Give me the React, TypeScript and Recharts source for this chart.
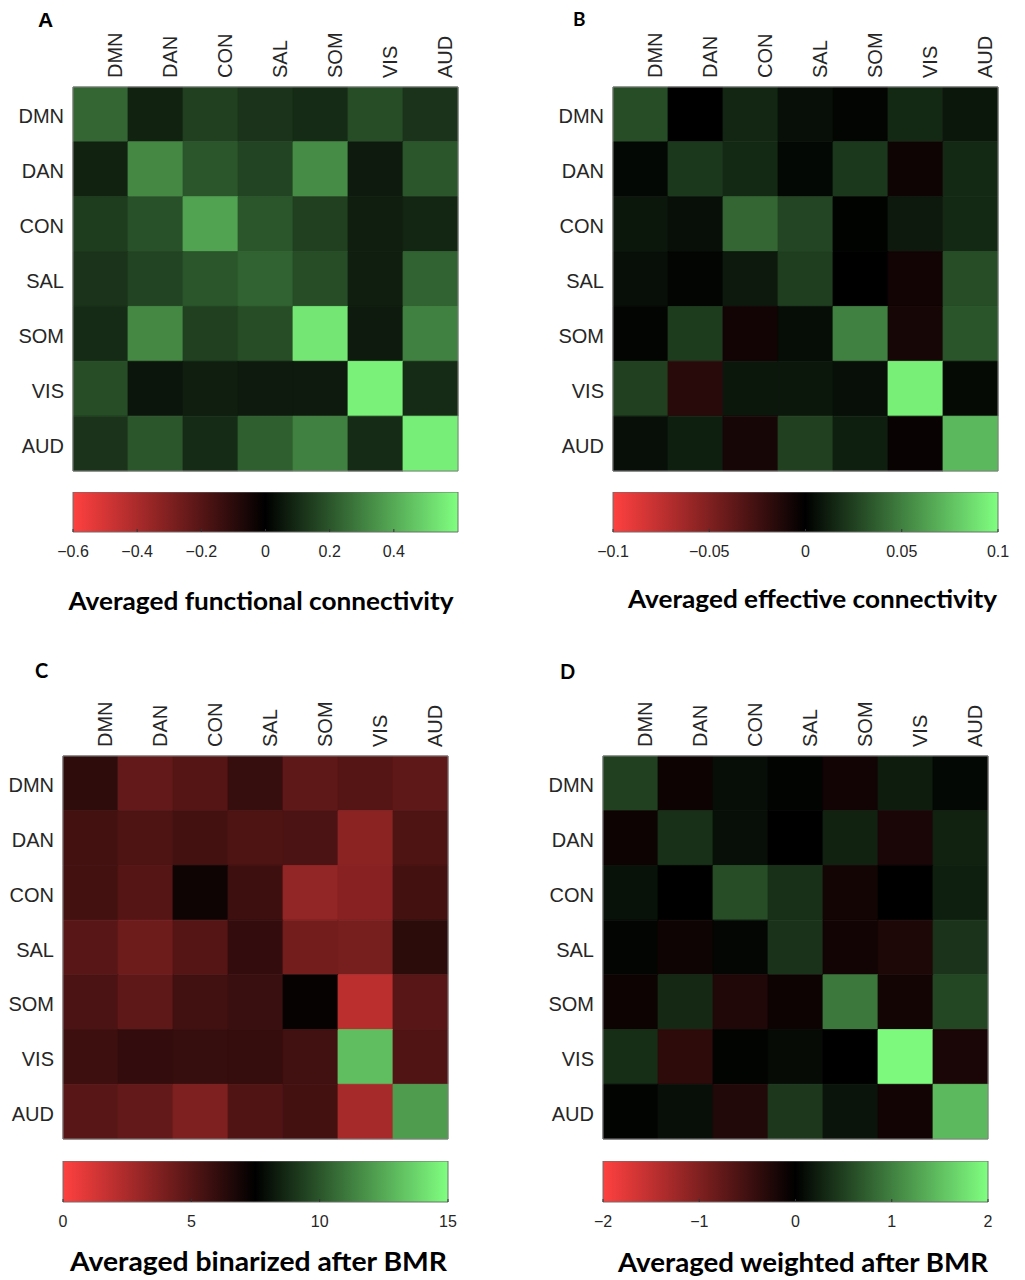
import React from 'react';
import { ScatterChart, Scatter, XAxis, YAxis, ReferenceArea } from 'recharts';

const networks = ['DMN', 'DAN', 'CON', 'SAL', 'SOM', 'VIS', 'AUD'];

// Panel A: averaged functional connectivity (rows x columns)
const functionalConnectivity = [
  [0.24, 0.08, 0.15, 0.12, 0.1, 0.18, 0.12],
  [0.08, 0.32, 0.2, 0.16, 0.33, 0.06, 0.2],
  [0.14, 0.19, 0.38, 0.2, 0.15, 0.07, 0.09],
  [0.12, 0.16, 0.2, 0.23, 0.18, 0.07, 0.23],
  [0.1, 0.32, 0.15, 0.18, 0.54, 0.06, 0.3],
  [0.18, 0.05, 0.07, 0.06, 0.06, 0.57, 0.1],
  [0.12, 0.2, 0.1, 0.22, 0.3, 0.1, 0.56],
];

// Panel B: averaged effective connectivity
const effectiveConnectivity = [
  [0.03, 0.0, 0.015, 0.006, 0.002, 0.016, 0.009],
  [0.003, 0.022, 0.016, 0.003, 0.022, -0.006, 0.016],
  [0.009, 0.006, 0.04, 0.027, 0.001, 0.01, 0.016],
  [0.006, 0.002, 0.01, 0.024, 0.0, -0.007, 0.03],
  [0.002, 0.023, -0.007, 0.005, 0.05, -0.009, 0.033],
  [0.025, -0.016, 0.009, 0.009, 0.006, 0.094, 0.004],
  [0.006, 0.012, -0.009, 0.025, 0.012, -0.003, 0.072],
];

// Panel C: averaged binarized after BMR
const binarizedBMR = [
  [6.15, 4.6, 5.0, 5.9, 4.7, 5.0, 4.7],
  [5.5, 5.2, 5.5, 5.2, 5.3, 3.4, 5.2],
  [5.5, 5.0, 7.05, 5.7, 3.2, 3.5, 5.5],
  [4.9, 4.3, 5.0, 6.0, 4.1, 4.0, 6.2],
  [5.3, 4.7, 5.6, 5.8, 7.3, 2.0, 4.9],
  [5.7, 6.0, 5.9, 5.95, 5.6, 13.1, 5.15],
  [4.9, 4.6, 3.8, 5.15, 5.5, 2.6, 12.1],
];

// Panel D: averaged weighted after BMR
const weightedBMR = [
  [0.5, -0.1, 0.11, 0.03, -0.14, 0.22, 0.06],
  [-0.1, 0.38, 0.12, 0.0, 0.27, -0.2, 0.27],
  [0.14, 0.0, 0.6, 0.38, -0.16, 0.0, 0.24],
  [0.04, -0.12, 0.05, 0.39, -0.14, -0.23, 0.4],
  [-0.1, 0.31, -0.25, -0.1, 0.94, -0.16, 0.55],
  [0.35, -0.35, 0.03, 0.09, 0.0, 1.96, -0.2],
  [0.03, 0.12, -0.27, 0.43, 0.16, -0.14, 1.45],
];

const ticksA = [-0.6, -0.4, -0.2, 0, 0.2, 0.4];
const ticksB = [-0.1, -0.05, 0, 0.05, 0.1];
const ticksC = [0, 5, 10, 15];
const ticksD = [-2, -1, 0, 1, 2];

const titles = [
  'Averaged functional connectivity',
  'Averaged effective connectivity',
  'Averaged binarized after BMR',
  'Averaged weighted after BMR',
];
const letters = ['A', 'B', 'C', 'D'];

const RED = [255, 64, 64];
const GREEN = [128, 255, 128];
const TXT = '#262626';
const SANS = '"Liberation Sans", Arial, sans-serif';
const TITLE_FONT = 'Lato, "Open Sans", sans-serif';
const centers = networks.map((_, i) => i + 0.5);

function colorFor(v: number, min: number, max: number) {
  const mid = (min + max) / 2;
  const half = (max - min) / 2;
  let t = (v - mid) / half;
  if (t > 1) t = 1;
  if (t < -1) t = -1;
  const c = t >= 0 ? GREEN : RED;
  const a = Math.abs(t);
  return `rgb(${Math.round(c[0] * a)},${Math.round(c[1] * a)},${Math.round(c[2] * a)})`;
}

function fmt(v: number) {
  return v < 0 ? '\u2212' + String(-v) : String(v);
}

const TopTick = (props: any) => {
  const { x, y, payload } = props;
  const label = networks[Math.floor(payload.value)];
  return (
    <text
      transform={`translate(${x + 21.5},${y - 9}) rotate(-90)`}
      textAnchor="start"
      fontFamily={SANS}
      fontSize={20}
      fill={TXT}
    >
      {label}
    </text>
  );
};

const LeftTick = (props: any) => {
  const { x, y, payload } = props;
  const label = networks[Math.floor(payload.value)];
  return (
    <text x={x - 9} y={y + 9} textAnchor="end" fontFamily={SANS} fontSize={20} fill={TXT}>
      {label}
    </text>
  );
};

const CbTick = (props: any) => {
  const { x, y, payload } = props;
  return (
    <g>
      <line x1={x} x2={x} y1={y} y2={y - 3} stroke="#333" strokeWidth={1} />
      <text x={x} y={y + 25} textAnchor="middle" fontFamily={SANS} fontSize={16} fill={TXT}>
        {fmt(payload.value)}
      </text>
    </g>
  );
};

const NoShape = () => <g />;

type PanelCfg = {
  matrix: number[][];
  min: number;
  max: number;
  ticks: number[];
  hx: number;
  hy: number;
  hw: number;
  hh: number;
  cbY: number;
  cbH: number;
  gid: string;
};

function Heatmap({ cfg }: { cfg: PanelCfg }) {
  const YW = 73;
  const XH = 87;
  const R = 12;
  const B = 12;
  const W = YW + cfg.hw + R;
  const H = XH + cfg.hh + B;
  const cellData = cfg.matrix.flatMap((row, i) => row.map((v, j) => ({ x: j + 0.5, y: i + 0.5, v })));
  return (
    <div style={{ position: 'absolute', left: cfg.hx - YW, top: cfg.hy - XH }}>
      <ScatterChart width={W} height={H} margin={{ top: 0, left: 0, right: R, bottom: B }}>
        <XAxis
          xAxisId="top"
          dataKey="x"
          type="number"
          orientation="top"
          domain={[0, 7]}
          ticks={centers}
          height={XH}
          tickSize={0}
          tickMargin={0}
          axisLine={false}
          tickLine={false}
          interval={0}
          tick={TopTick}
          allowDataOverflow
        />
        <YAxis
          yAxisId="left"
          dataKey="y"
          type="number"
          domain={[0, 7]}
          reversed
          ticks={centers}
          width={YW}
          tickSize={0}
          tickMargin={0}
          axisLine={false}
          tickLine={false}
          interval={0}
          tick={LeftTick}
          allowDataOverflow
        />
        <Scatter
          data={cellData}
          xAxisId="top"
          yAxisId="left"
          shape={NoShape}
          isAnimationActive={false}
        />
        {cfg.matrix.flatMap((row, i) =>
          row.map((v, j) => {
            const col = colorFor(v, cfg.min, cfg.max);
            return (
              <ReferenceArea
                key={`c${i}-${j}`}
                xAxisId="top"
                yAxisId="left"
                x1={j}
                x2={j + 1}
                y1={i}
                y2={i + 1}
                fill={col}
                fillOpacity={1}
                stroke={col}
                strokeWidth={0.8}
                ifOverflow="visible"
              />
            );
          })
        )}
        <ReferenceArea
          xAxisId="top"
          yAxisId="left"
          x1={0}
          x2={7}
          y1={0}
          y2={7}
          fill="none"
          fillOpacity={0}
          stroke="#808080"
          strokeWidth={1}
          ifOverflow="visible"
        />
      </ScatterChart>
    </div>
  );
}

function Colorbar({ cfg }: { cfg: PanelCfg }) {
  const L = 25;
  const R = 25;
  const XH = 40;
  const W = L + cfg.hw + R;
  const H = cfg.cbH + XH;
  const ends = [
    { x: cfg.min, y: 0 },
    { x: cfg.max, y: 1 },
  ];
  return (
    <div style={{ position: 'absolute', left: cfg.hx - L, top: cfg.cbY }}>
      <ScatterChart width={W} height={H} margin={{ top: 0, left: L, right: R, bottom: 0 }}>
        <defs>
          <linearGradient id={cfg.gid} x1="0" y1="0" x2="1" y2="0">
            <stop offset="0" stopColor={`rgb(${RED.join(',')})`} />
            <stop offset="0.5" stopColor="#000" />
            <stop offset="1" stopColor={`rgb(${GREEN.join(',')})`} />
          </linearGradient>
        </defs>
        <XAxis
          dataKey="x"
          type="number"
          domain={[cfg.min, cfg.max]}
          ticks={cfg.ticks}
          height={XH}
          tickSize={0}
          tickMargin={0}
          axisLine={false}
          tickLine={false}
          interval={0}
          tick={CbTick}
          allowDataOverflow
        />
        <YAxis dataKey="y" type="number" domain={[0, 1]} hide />
        <Scatter data={ends} shape={NoShape} isAnimationActive={false} />
        <ReferenceArea
          x1={cfg.min}
          x2={cfg.max}
          y1={0}
          y2={1}
          fill={`url(#${cfg.gid})`}
          fillOpacity={1}
          stroke="#6e6e6e"
          strokeWidth={1}
          ifOverflow="visible"
        />
      </ScatterChart>
    </div>
  );
}

const panels: PanelCfg[] = [
  { matrix: functionalConnectivity, min: -0.6, max: 0.6, ticks: ticksA, hx: 73, hy: 87, hw: 385, hh: 384, cbY: 492, cbH: 40, gid: 'gA' },
  { matrix: effectiveConnectivity, min: -0.1, max: 0.1, ticks: ticksB, hx: 613, hy: 87, hw: 385, hh: 384, cbY: 492, cbH: 40, gid: 'gB' },
  { matrix: binarizedBMR, min: 0, max: 15, ticks: ticksC, hx: 63, hy: 756, hw: 385, hh: 383, cbY: 1161, cbH: 41, gid: 'gC' },
  { matrix: weightedBMR, min: -2, max: 2, ticks: ticksD, hx: 603, hy: 756, hw: 385, hh: 383, cbY: 1161, cbH: 41, gid: 'gD' },
];

const titlePos = [
  { x: 261, y: 610, w: 385, fs: 25 },
  { x: 812.5, y: 608, w: 369, fs: 25 },
  { x: 258.5, y: 1271, w: 377, fs: 27 },
  { x: 803, y: 1272, w: 370, fs: 27 },
];
const letterPos = [
  { x: 38, y: 27, fs: 21, font: SANS },
  { x: 573, y: 26, fs: 19, font: TITLE_FONT },
  { x: 35, y: 678, fs: 20, font: TITLE_FONT },
  { x: 560, y: 679, fs: 20, font: TITLE_FONT },
];

export default function App() {
  return (
    <div style={{ position: 'absolute', left: 0, top: 0, width: 1025, height: 1280, background: '#fff' }}>
      {panels.map((p, i) => (
        <React.Fragment key={i}>
          <Heatmap cfg={p} />
          <Colorbar cfg={p} />
        </React.Fragment>
      ))}
      <svg width={1025} height={1280} style={{ position: 'absolute', left: 0, top: 0, pointerEvents: 'none' }}>
        {titles.map((t, i) => (
          <text
            key={t}
            x={titlePos[i].x}
            y={titlePos[i].y}
            textAnchor="middle"
            fontFamily={TITLE_FONT}
            fontWeight={700}
            fontSize={titlePos[i].fs}
            fill="#000"
            textLength={titlePos[i].w}
            lengthAdjust="spacingAndGlyphs"
          >
            {t}
          </text>
        ))}
        {letters.map((l, i) => (
          <text
            key={l}
            x={letterPos[i].x}
            y={letterPos[i].y}
            fontFamily={letterPos[i].font}
            fontWeight={700}
            fontSize={letterPos[i].fs}
            fill="#000"
          >
            {l}
          </text>
        ))}
      </svg>
    </div>
  );
}
